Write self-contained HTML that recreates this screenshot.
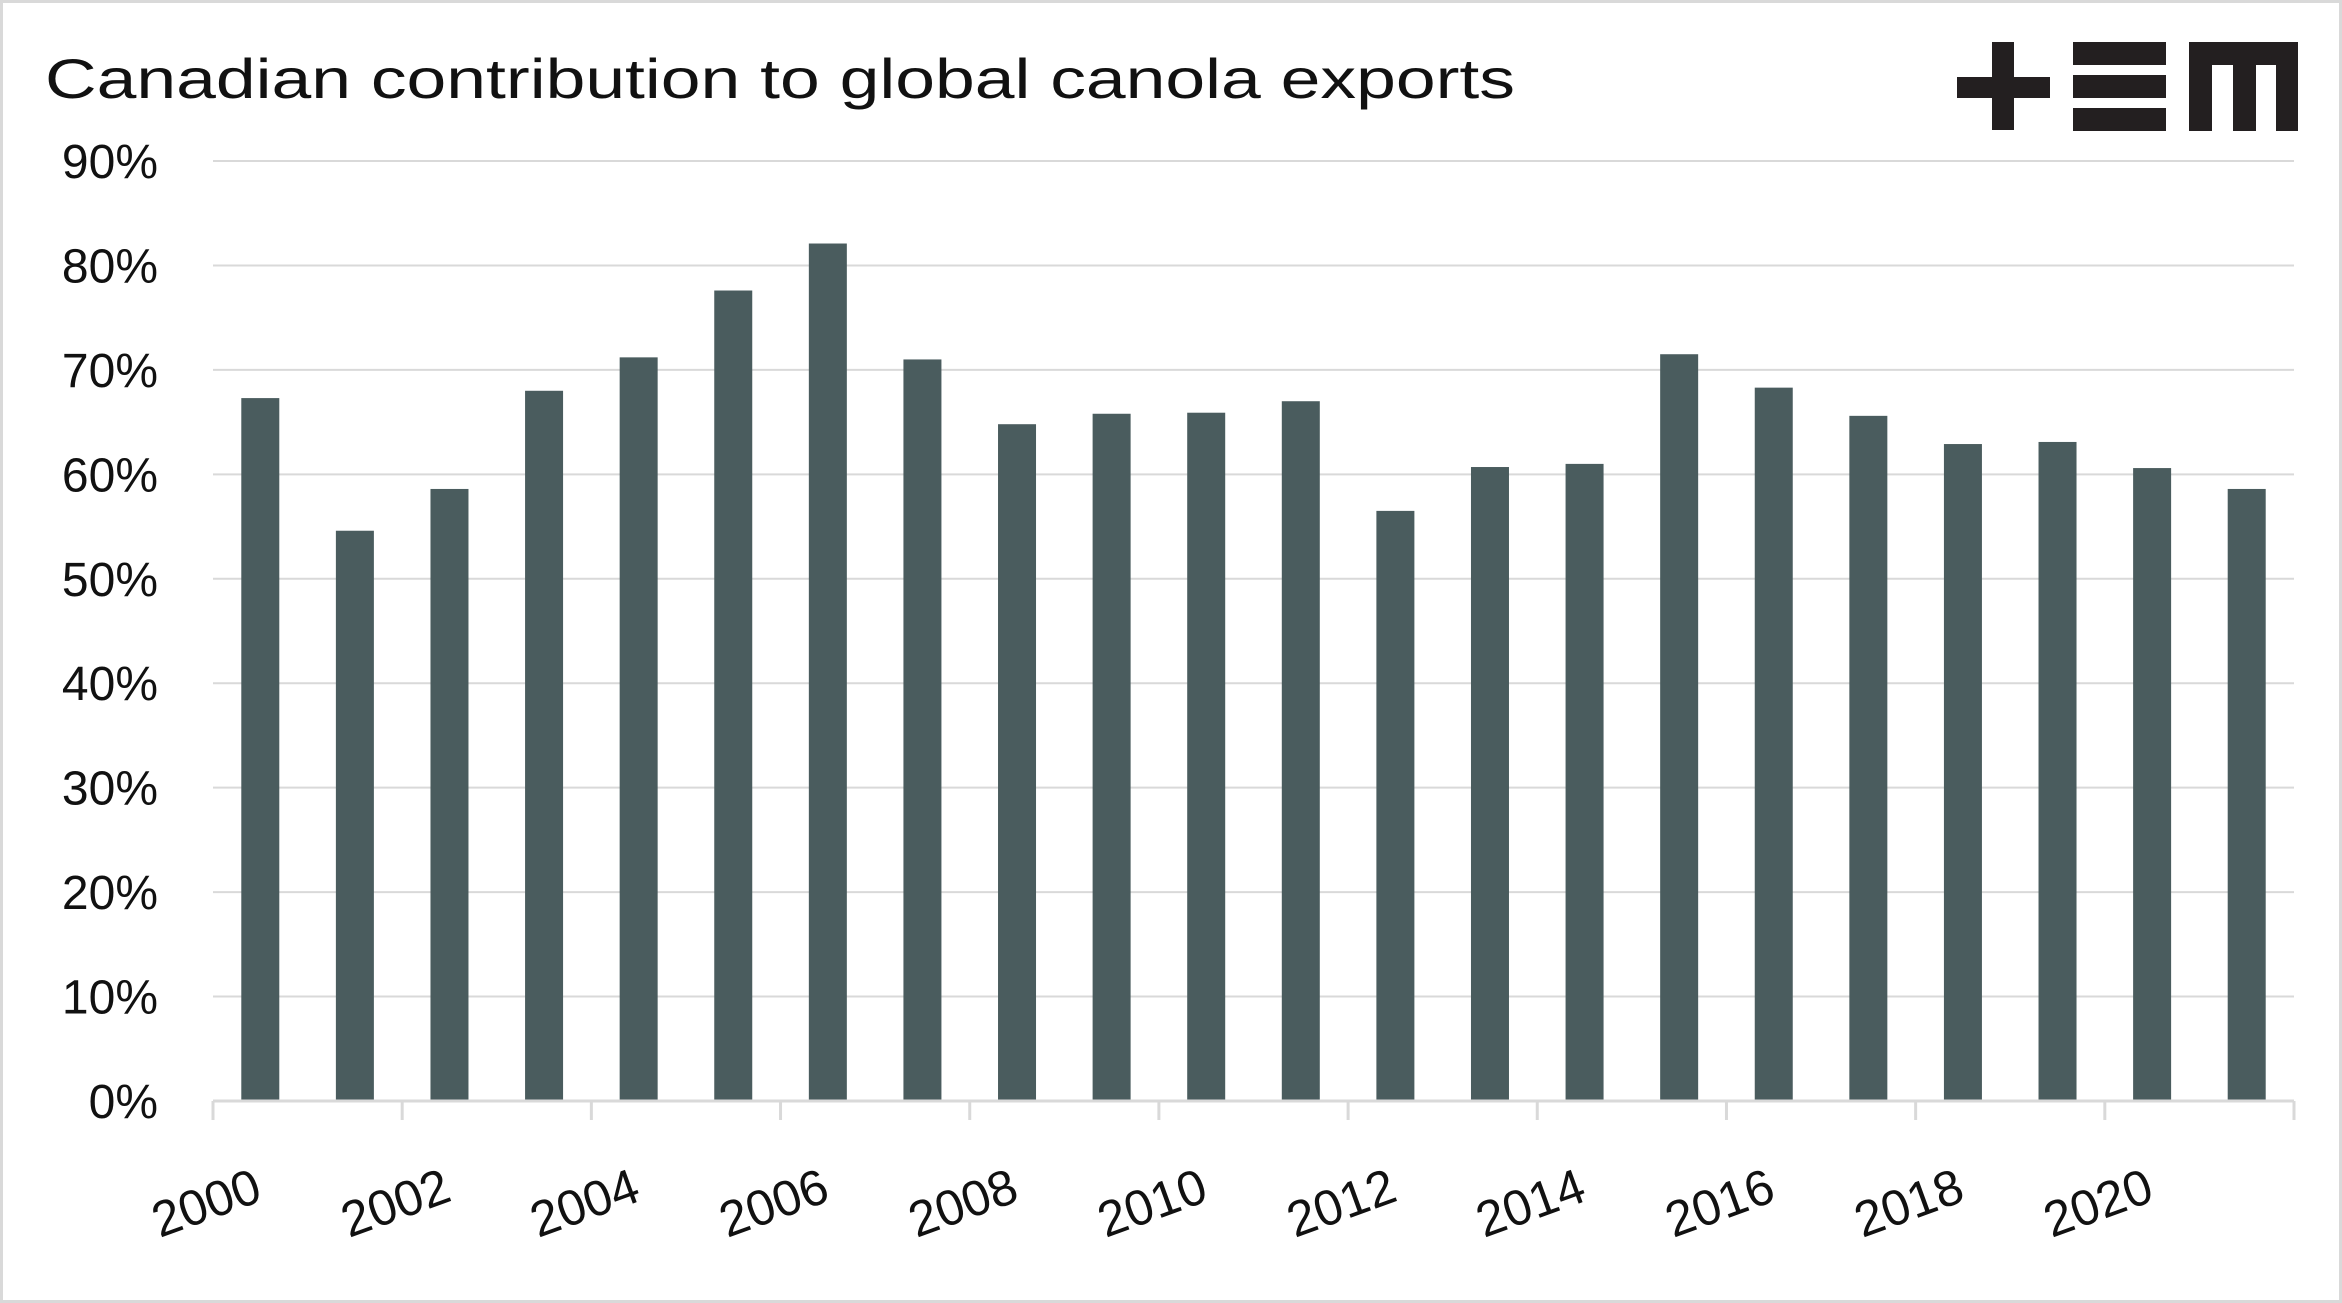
<!DOCTYPE html>
<html><head><meta charset="utf-8"><style>
html,body{margin:0;padding:0;background:#fff;}
svg{display:block;font-family:"Liberation Sans",sans-serif;}
</style></head><body>
<svg id="chart" width="2342" height="1303" viewBox="0 0 2342 1303" xmlns="http://www.w3.org/2000/svg">
<rect x="1.5" y="1.5" width="2339" height="1300" fill="#fff" stroke="#d9d9d9" stroke-width="3"/>
<text x="45" y="98" font-size="56" fill="#111" textLength="1470" lengthAdjust="spacingAndGlyphs">Canadian contribution to global canola exports</text>
<g fill="#231f20">
<rect x="1957" y="77" width="93" height="21"/><rect x="1992" y="42" width="22" height="88"/>
<rect x="2073" y="42" width="93" height="23"/><rect x="2073" y="75" width="93" height="23"/><rect x="2073" y="108" width="93" height="23"/>
<rect x="2189" y="42" width="109" height="23"/><rect x="2189" y="42" width="23" height="89"/><rect x="2233" y="42" width="23" height="89"/><rect x="2276" y="42" width="22" height="89"/>
</g>
<g id="grid"></g><g id="bars"></g><g id="axes"></g>
</svg>
<script>
const years = ["2000","2001","2002","2003","2004","2005","2006","2007","2008","2009","2010","2011","2012","2013","2014","2015","2016","2017","2018","2019","2020","2021"];
const shares = [67.3,54.6,58.6,68.0,71.2,77.6,82.1,71.0,64.8,65.8,65.9,67.0,56.5,60.7,61.0,71.5,68.3,65.6,62.9,63.1,60.6,58.6];
const yTicks = [0,10,20,30,40,50,60,70,80,90];
const NS="http://www.w3.org/2000/svg";
const x0=213,x1=2294,y0=1101,y90=161;
const cw=(x1-x0)/years.length;
const xc=i=>x0+cw*(i+0.5);
const ys=v=>y0-(v/90)*(y0-y90);
function mk(tag,attrs,parent){const e=document.createElementNS(NS,tag);for(const k in attrs)e.setAttribute(k,attrs[k]);parent.appendChild(e);return e;}
const grid=document.getElementById('grid'),bars=document.getElementById('bars'),axes=document.getElementById('axes');
yTicks.forEach(t=>{
  if(t>0){const l=mk('line',{x1:x0,x2:x1,y1:ys(t),y2:ys(t),stroke:'#d9d9d9','stroke-width':2},grid);
  
  }
  const tx=mk('text',{x:158,y:ys(t)+17,'font-size':48,'text-anchor':'end',fill:'#111'},axes);
  tx.textContent=t+'%';
  
  
});
shares.forEach((v,i)=>{
  const r=mk('rect',{x:xc(i)-19,y:ys(v),width:38,height:y0-ys(v),fill:'#4a5c5e'},bars);
  
  
});
const ax=mk('line',{x1:x0,x2:x1,y1:y0,y2:y0,stroke:'#d9d9d9','stroke-width':3},axes);


for(let i=0;i<=years.length;i+=2){
  const tk=mk('line',{x1:x0+cw*i,x2:x0+cw*i,y1:y0,y2:y0+19,stroke:'#d9d9d9','stroke-width':3},axes);
  
  
}
years.forEach((y,i)=>{
  if(i%2)return;
  const cx=xc(i)+4,cy=1200;
  const t=mk('text',{x:cx,y:cy,'font-size':50,'text-anchor':'end',fill:'#111',transform:`rotate(-20 ${cx} ${cy})`},axes);
  t.textContent=y;
  
  
});
</script>
</body></html>
